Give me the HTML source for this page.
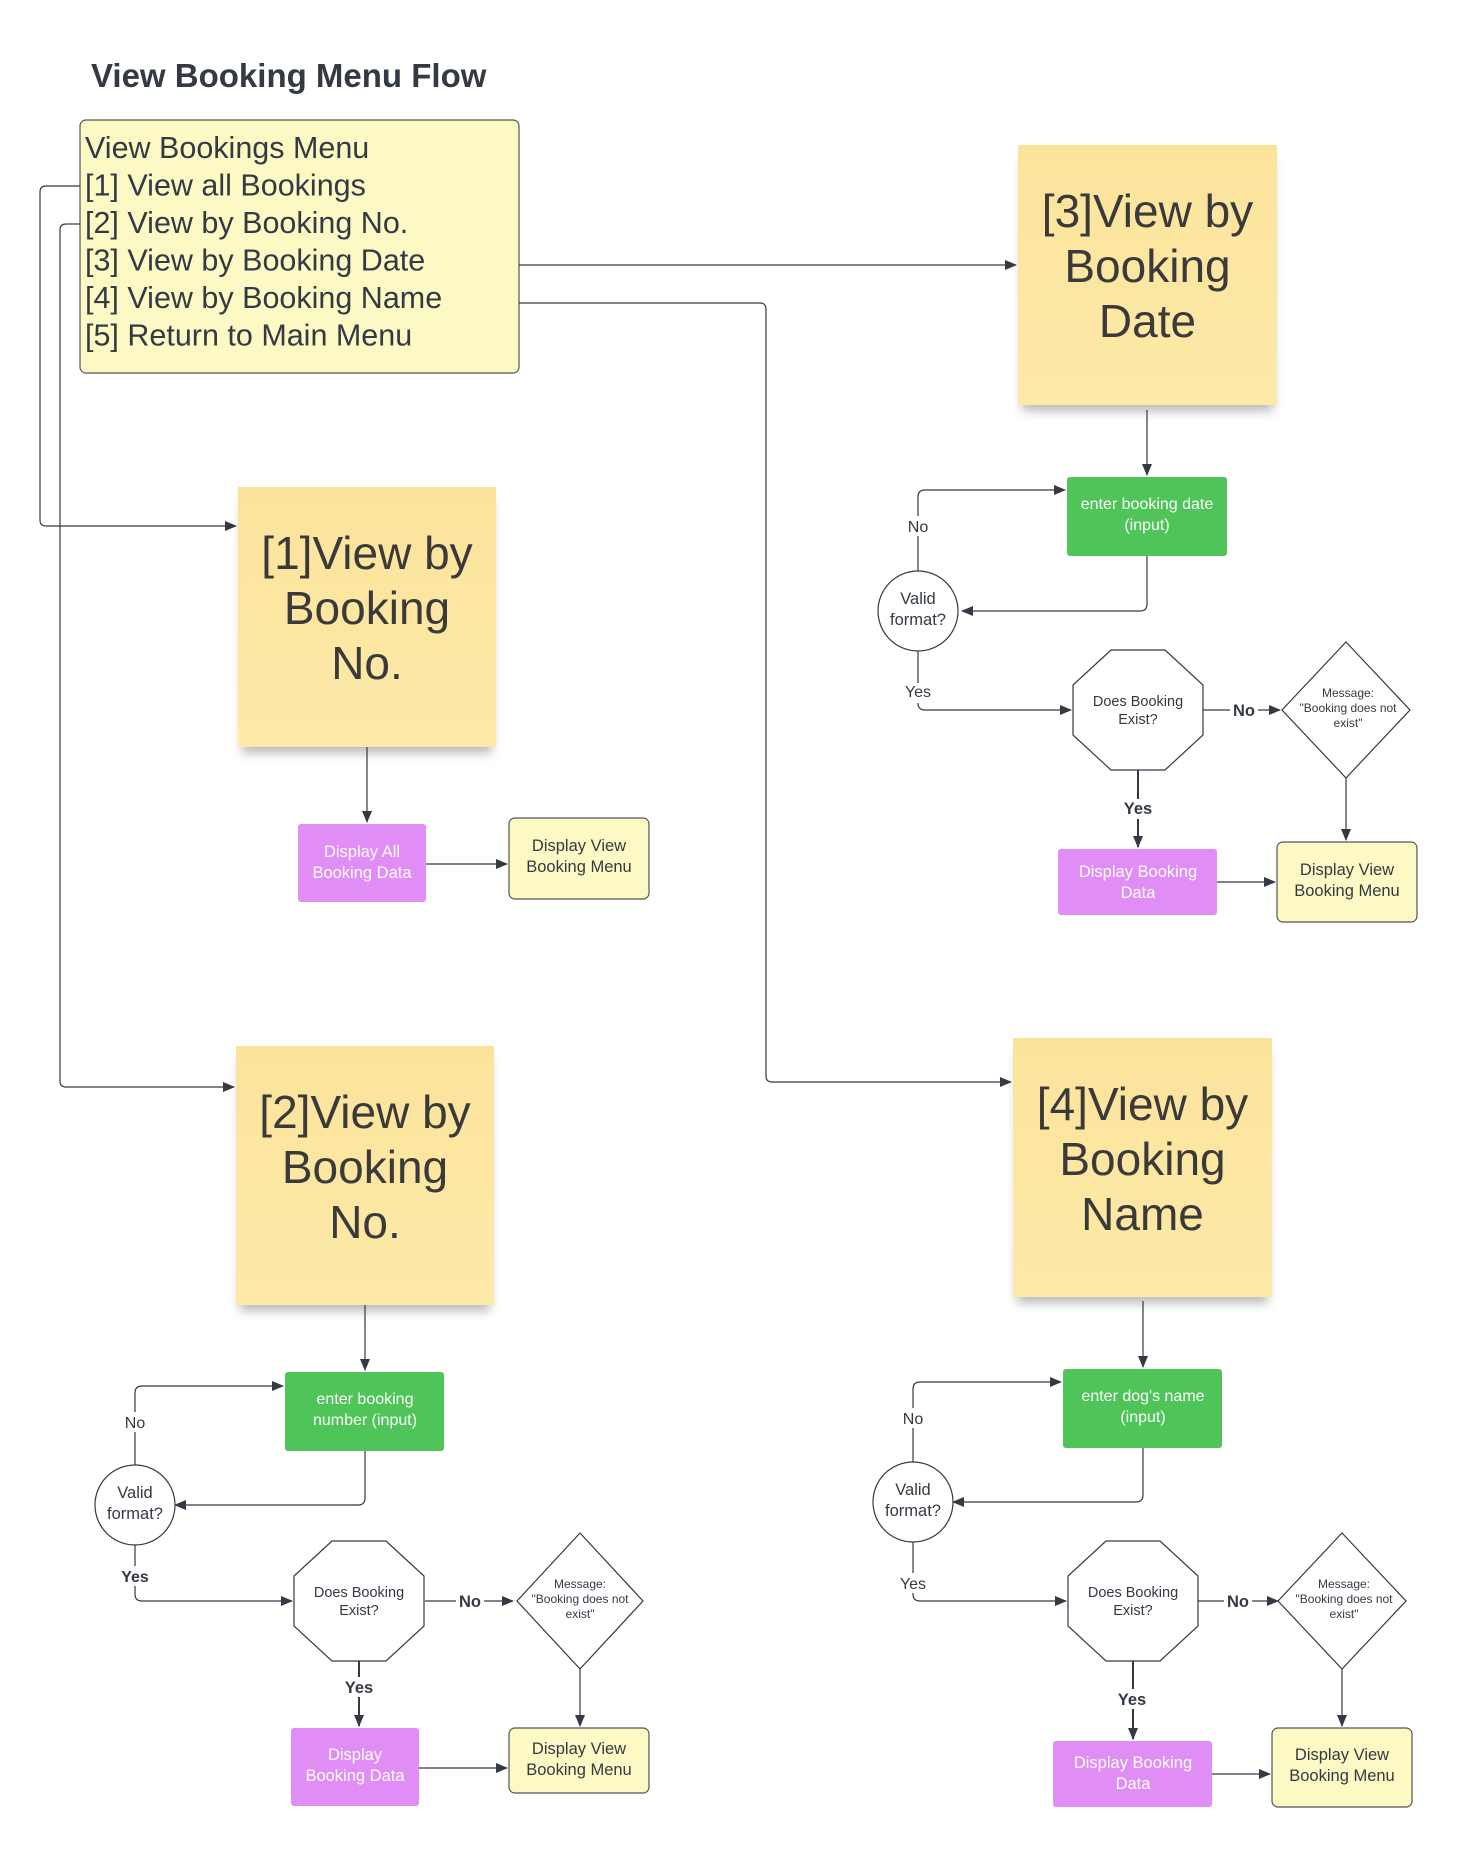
<!DOCTYPE html>
<html><head><meta charset="utf-8"><style>
html,body{margin:0;padding:0;background:#fff;}
body{width:1461px;height:1851px;position:relative;overflow:hidden;font-family:"Liberation Sans",sans-serif;}
.sticky{position:absolute;background:linear-gradient(#fbe39b,#fdeaa8);box-shadow:0 10px 10px -4px rgba(0,0,0,0.28);color:#3a3a3a;font-size:46px;line-height:55px;text-align:center;box-sizing:border-box;}
svg{position:absolute;left:0;top:0;}
</style></head><body>
<div class="sticky" style="left:1018px;top:145px;width:259px;height:260px;padding-top:39px;">[3]View by<br>Booking<br>Date</div>
<div class="sticky" style="left:238px;top:487px;width:258px;height:260px;padding-top:39px;">[1]View by<br>Booking<br>No.</div>
<div class="sticky" style="left:236px;top:1046px;width:258px;height:259px;padding-top:39px;">[2]View by<br>Booking<br>No.</div>
<div class="sticky" style="left:1013px;top:1038px;width:259px;height:259px;padding-top:39px;">[4]View by<br>Booking<br>Name</div>
<svg width="1461" height="1851" viewBox="0 0 1461 1851" font-family="Liberation Sans, sans-serif">
<defs><marker id="a" markerWidth="12" markerHeight="10" refX="11" refY="5" orient="auto" markerUnits="userSpaceOnUse"><path d="M0,0 L12,5 L0,10 z" fill="#333a44"/></marker></defs>
<text x="91" y="87" font-size="33" font-weight="bold" fill="#333a44">View Booking Menu Flow</text>
<rect x="80" y="120" width="439" height="253" rx="6" fill="#fdf9c4" stroke="#555" stroke-width="1.2"/>
<g font-size="30.5" fill="#333a44">
<text x="85" y="158">View Bookings Menu</text>
<text x="85" y="195.5">[1] View all Bookings</text>
<text x="85" y="233">[2] View by Booking No.</text>
<text x="85" y="270.5">[3] View by Booking Date</text>
<text x="85" y="308">[4] View by Booking Name</text>
<text x="85" y="345.5">[5] Return to Main Menu</text>
</g>
<g fill="none" stroke="#333a44" stroke-width="1.2">
<path d="M519,265 H1016" marker-end="url(#a)"/>
<path d="M519,303 H760 q6,0 6,6 V1076 q0,6 6,6 H1011" marker-end="url(#a)"/>
<path d="M80,186 H46 q-6,0 -6,6 V520 q0,6 6,6 H236" marker-end="url(#a)"/>
<path d="M80,224 H66 q-6,0 -6,6 V1081 q0,6 6,6 H234" marker-end="url(#a)"/>
<path d="M367,747 V822" marker-end="url(#a)"/>
<path d="M426,864 H507" marker-end="url(#a)"/>
</g>
<rect x="298" y="824" width="128" height="78" rx="3" fill="#e08ef5"/>
<text x="362" y="857" font-size="16.5" fill="#fff" text-anchor="middle">Display All</text>
<text x="362" y="878" font-size="16.5" fill="#fff" text-anchor="middle">Booking Data</text>
<rect x="509" y="818" width="140" height="81" rx="6" fill="#fdf9c4" stroke="#555" stroke-width="1.2"/>
<text x="579" y="851" font-size="16.5" fill="#333a44" text-anchor="middle">Display View</text>
<text x="579" y="872" font-size="16.5" fill="#333a44" text-anchor="middle">Booking Menu</text>

<g fill="none" stroke="#333a44" stroke-width="1.2">
<path d="M1147,410 V475" marker-end="url(#a)"/>
<path d="M1147,556 V604 q0,7 -7,7 H962" marker-end="url(#a)"/>
<path d="M918,571 V497 q0,-7 7,-7 H1065" marker-end="url(#a)"/>
<path d="M918,651 V703 q0,7 7,7 H1071" marker-end="url(#a)"/>
<path d="M1203,710 H1280" marker-end="url(#a)"/>
<path d="M1346,778 V840" marker-end="url(#a)"/>
<path d="M1138,770 V847" marker-end="url(#a)" stroke-width="2"/>
<path d="M1217,882 H1275" marker-end="url(#a)"/>
</g>
<rect x="1067" y="477" width="160" height="79" rx="3" fill="#4fc459"/>
<text x="1147" y="509" font-size="16" fill="#fff" text-anchor="middle">enter booking date</text>
<text x="1147" y="530" font-size="16" fill="#fff" text-anchor="middle">(input)</text>
<circle cx="918" cy="611" r="40" fill="#fff" stroke="#333a44" stroke-width="1.2"/>
<text x="918" y="604" font-size="16.5" fill="#333a44" text-anchor="middle">Valid</text>
<text x="918" y="625" font-size="16.5" fill="#333a44" text-anchor="middle">format?</text>
<rect x="903" y="516" width="30" height="20" fill="#fff"/><text x="918" y="532" font-size="16" fill="#333a44" text-anchor="middle">No</text>
<rect x="900" y="683" width="36" height="20" fill="#fff"/><text x="918" y="697" font-size="16" fill="#333a44" text-anchor="middle">Yes</text>
<polygon points="1111,650 1165,650 1203,685 1203,735 1165,770 1111,770 1073,735 1073,685" fill="#fff" stroke="#333a44" stroke-width="1.2"/>
<text x="1138" y="706" font-size="14.5" fill="#333a44" text-anchor="middle">Does Booking</text>
<text x="1138" y="724" font-size="14.5" fill="#333a44" text-anchor="middle">Exist?</text>
<rect x="1230" y="700" width="28" height="20" fill="#fff"/><text x="1244" y="716" font-size="16.5" font-weight="bold" fill="#333a44" text-anchor="middle">No</text>
<polygon points="1346,642 1410,710 1346,778 1282,710" fill="#fff" stroke="#333a44" stroke-width="1.2"/>
<text x="1348" y="697" font-size="12" fill="#333a44" text-anchor="middle">Message:</text>
<text x="1348" y="712" font-size="12" fill="#333a44" text-anchor="middle">"Booking does not</text>
<text x="1348" y="727" font-size="12" fill="#333a44" text-anchor="middle">exist"</text>
<rect x="1118" y="799" width="40" height="20" fill="#fff"/><text x="1138" y="814" font-size="16.5" font-weight="bold" fill="#333a44" text-anchor="middle">Yes</text>
<rect x="1058" y="849" width="159" height="66" rx="3" fill="#e08ef5"/>
<text x="1138" y="877" font-size="16.5" fill="#fff" text-anchor="middle">Display Booking</text>
<text x="1138" y="898" font-size="16.5" fill="#fff" text-anchor="middle">Data</text>
<rect x="1277" y="842" width="140" height="80" rx="6" fill="#fdf9c4" stroke="#555" stroke-width="1.2"/>
<text x="1347" y="875" font-size="16.5" fill="#333a44" text-anchor="middle">Display View</text>
<text x="1347" y="896" font-size="16.5" fill="#333a44" text-anchor="middle">Booking Menu</text>

<g fill="none" stroke="#333a44" stroke-width="1.2">
<path d="M365,1305 V1370" marker-end="url(#a)"/>
<path d="M365,1451 V1498 q0,7 -7,7 H175" marker-end="url(#a)"/>
<path d="M135,1465 V1393 q0,-7 7,-7 H283" marker-end="url(#a)"/>
<path d="M135,1545 V1594 q0,7 7,7 H292" marker-end="url(#a)"/>
<path d="M425,1601 H513" marker-end="url(#a)"/>
<path d="M580,1669 V1726" marker-end="url(#a)"/>
<path d="M359,1661 V1726" marker-end="url(#a)" stroke-width="2"/>
<path d="M419,1768 H507" marker-end="url(#a)"/>
</g>
<rect x="285" y="1372" width="159" height="79" rx="3" fill="#4fc459"/>
<text x="365" y="1404" font-size="16" fill="#fff" text-anchor="middle">enter booking</text>
<text x="365" y="1425" font-size="16" fill="#fff" text-anchor="middle">number (input)</text>
<circle cx="135" cy="1505" r="40" fill="#fff" stroke="#333a44" stroke-width="1.2"/>
<text x="135" y="1498" font-size="16.5" fill="#333a44" text-anchor="middle">Valid</text>
<text x="135" y="1519" font-size="16.5" fill="#333a44" text-anchor="middle">format?</text>
<rect x="120" y="1412" width="30" height="20" fill="#fff"/><text x="135" y="1428" font-size="16" fill="#333a44" text-anchor="middle">No</text>
<rect x="115" y="1566" width="40" height="20" fill="#fff"/><text x="135" y="1582" font-size="16" font-weight="bold" fill="#333a44" text-anchor="middle">Yes</text>
<polygon points="332,1541 386,1541 424,1576 424,1626 386,1661 332,1661 294,1626 294,1576" fill="#fff" stroke="#333a44" stroke-width="1.2"/>
<text x="359" y="1597" font-size="14.5" fill="#333a44" text-anchor="middle">Does Booking</text>
<text x="359" y="1615" font-size="14.5" fill="#333a44" text-anchor="middle">Exist?</text>
<rect x="456" y="1591" width="28" height="20" fill="#fff"/><text x="470" y="1607" font-size="16.5" font-weight="bold" fill="#333a44" text-anchor="middle">No</text>
<polygon points="580,1533 643,1601 580,1669 517,1601" fill="#fff" stroke="#333a44" stroke-width="1.2"/>
<text x="580" y="1588" font-size="12" fill="#333a44" text-anchor="middle">Message:</text>
<text x="580" y="1603" font-size="12" fill="#333a44" text-anchor="middle">"Booking does not</text>
<text x="580" y="1618" font-size="12" fill="#333a44" text-anchor="middle">exist"</text>
<rect x="339" y="1677" width="40" height="20" fill="#fff"/><text x="359" y="1693" font-size="16.5" font-weight="bold" fill="#333a44" text-anchor="middle">Yes</text>
<rect x="291" y="1728" width="128" height="78" rx="3" fill="#e08ef5"/>
<text x="355" y="1760" font-size="16.5" fill="#fff" text-anchor="middle">Display</text>
<text x="355" y="1781" font-size="16.5" fill="#fff" text-anchor="middle">Booking Data</text>
<rect x="509" y="1728" width="140" height="65" rx="6" fill="#fdf9c4" stroke="#555" stroke-width="1.2"/>
<text x="579" y="1754" font-size="16.5" fill="#333a44" text-anchor="middle">Display View</text>
<text x="579" y="1775" font-size="16.5" fill="#333a44" text-anchor="middle">Booking Menu</text>

<g fill="none" stroke="#333a44" stroke-width="1.2">
<path d="M1143,1301 V1367" marker-end="url(#a)"/>
<path d="M1143,1448 V1495 q0,7 -7,7 H953" marker-end="url(#a)"/>
<path d="M913,1462 V1389 q0,-7 7,-7 H1061" marker-end="url(#a)"/>
<path d="M913,1542 V1594 q0,7 7,7 H1066" marker-end="url(#a)"/>
<path d="M1198,1601 H1278" marker-end="url(#a)"/>
<path d="M1342,1669 V1726" marker-end="url(#a)"/>
<path d="M1133,1661 V1739" marker-end="url(#a)" stroke-width="2"/>
<path d="M1212,1774 H1270" marker-end="url(#a)"/>
</g>
<rect x="1063" y="1369" width="159" height="79" rx="3" fill="#4fc459"/>
<text x="1143" y="1401" font-size="16" fill="#fff" text-anchor="middle">enter dog's name</text>
<text x="1143" y="1422" font-size="16" fill="#fff" text-anchor="middle">(input)</text>
<circle cx="913" cy="1502" r="40" fill="#fff" stroke="#333a44" stroke-width="1.2"/>
<text x="913" y="1495" font-size="16.5" fill="#333a44" text-anchor="middle">Valid</text>
<text x="913" y="1516" font-size="16.5" fill="#333a44" text-anchor="middle">format?</text>
<rect x="898" y="1408" width="30" height="20" fill="#fff"/><text x="913" y="1424" font-size="16" fill="#333a44" text-anchor="middle">No</text>
<rect x="895" y="1573" width="36" height="20" fill="#fff"/><text x="913" y="1589" font-size="16" fill="#333a44" text-anchor="middle">Yes</text>
<polygon points="1106,1541 1160,1541 1198,1576 1198,1626 1160,1661 1106,1661 1068,1626 1068,1576" fill="#fff" stroke="#333a44" stroke-width="1.2"/>
<text x="1133" y="1597" font-size="14.5" fill="#333a44" text-anchor="middle">Does Booking</text>
<text x="1133" y="1615" font-size="14.5" fill="#333a44" text-anchor="middle">Exist?</text>
<rect x="1224" y="1591" width="28" height="20" fill="#fff"/><text x="1238" y="1607" font-size="16.5" font-weight="bold" fill="#333a44" text-anchor="middle">No</text>
<polygon points="1342,1533 1406,1601 1342,1669 1278,1601" fill="#fff" stroke="#333a44" stroke-width="1.2"/>
<text x="1344" y="1588" font-size="12" fill="#333a44" text-anchor="middle">Message:</text>
<text x="1344" y="1603" font-size="12" fill="#333a44" text-anchor="middle">"Booking does not</text>
<text x="1344" y="1618" font-size="12" fill="#333a44" text-anchor="middle">exist"</text>
<rect x="1112" y="1689" width="40" height="20" fill="#fff"/><text x="1132" y="1705" font-size="16.5" font-weight="bold" fill="#333a44" text-anchor="middle">Yes</text>
<rect x="1053" y="1741" width="159" height="66" rx="3" fill="#e08ef5"/>
<text x="1133" y="1768" font-size="16.5" fill="#fff" text-anchor="middle">Display Booking</text>
<text x="1133" y="1789" font-size="16.5" fill="#fff" text-anchor="middle">Data</text>
<rect x="1272" y="1728" width="140" height="79" rx="6" fill="#fdf9c4" stroke="#555" stroke-width="1.2"/>
<text x="1342" y="1760" font-size="16.5" fill="#333a44" text-anchor="middle">Display View</text>
<text x="1342" y="1781" font-size="16.5" fill="#333a44" text-anchor="middle">Booking Menu</text>
</svg>
</body></html>
